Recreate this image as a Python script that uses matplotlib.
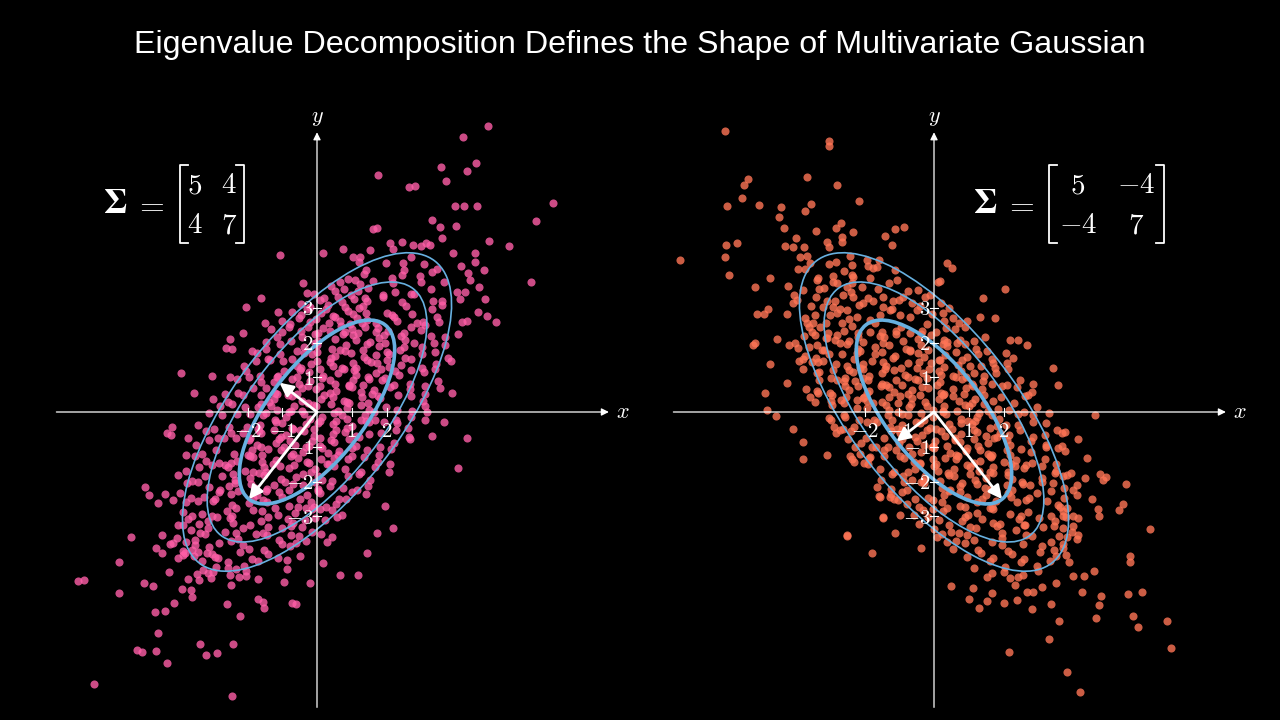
import numpy as np
import matplotlib.pyplot as plt
from matplotlib.patches import Ellipse
from matplotlib.lines import Line2D

plt.rcParams['mathtext.fontset'] = 'cm'

# ---- data -------------------------------------------------------------
title = 'Eigenvalue Decomposition Defines the Shape of Multivariate Gaussian'

sigma_left = [[5, 4], [4, 7]]
sigma_right = [[5, -4], [-4, 7]]

# Mahalanobis d^2 of the three contour ellipses
levels = [1, 2, 3]

x_ticks = [-2, -1, 1, 2]
y_ticks = [-3, -2, -1, 1, 2, 3]

# which way each eigenvector arrow points (major, minor)
arrow_hint_left = [(-1, -1), (-1, 1)]
arrow_hint_right = [(1, -1), (-1, -1)]

# samples (data units)
left_outer = [
    (4.93, 8.24), (4.21, 7.92), (4.57, 7.17), (3.58, 7.04), (4.31, 6.94), (3.72, 6.66), (1.76, 6.82),
    (2.64, 6.47), (2.81, 6.51), (6.78, 6.01), (3.97, 5.94), (4.22, 5.94), (4.61, 5.93), (6.31, 5.50),
    (3.32, 5.53), (3.53, 5.32), (3.99, 5.34), (1.62, 5.26), (1.74, 5.30), (3.61, 5.00), (4.96, 4.92),
    (5.53, 4.78), (2.45, 4.89), (2.77, 4.81), (2.99, 4.78), (3.14, 4.85), (3.26, 4.81), (2.20, 4.68),
    (3.91, 4.58), (4.54, 4.58), (2.71, 4.47), (1.99, 4.28), (2.48, 4.28), (3.09, 4.26), (4.55, 4.33),
    (4.14, 4.21), (4.81, 4.09), (3.32, 4.02), (3.44, 4.11), (4.34, 3.99), (2.96, 3.92), (2.45, 3.95),
    (6.15, 3.75), (4.40, 3.81), (3.66, 3.75), (2.15, 3.86), (1.62, 3.77), (4.67, 3.61), (3.28, 3.54),
    (4.02, 3.46), (4.27, 3.45), (1.91, 3.37), (2.25, 3.46), (2.71, 3.39), (4.83, 3.26), (4.11, 3.25),
    (3.35, 3.20), (3.61, 3.08), (2.45, 3.17), (4.64, 2.87), (4.90, 2.76), (5.14, 2.60), (4.31, 2.62),
    (4.16, 2.59), (2.15, 2.79), (2.22, 2.73), (2.73, 2.81), (3.44, 2.74), (2.88, 2.55), (3.06, 2.60),
    (1.7, 2.55), (2.3, 2.62), (3.1, 2.5), (2.0, 2.85), (2.55, 3.05), (3.3, 2.95), (1.9, 3.3), (2.8, 3.4),
    (3.6, 3.2), (2.2, 3.7), (3.0, 3.75), (2.5, 4.1), (1.75, 2.42), (2.7, 2.45), (3.5, 2.6),
    (-4.18, -0.42), (-4.33, -0.60), (-4.20, -0.66), (-3.70, -0.74), (-4.95, -2.15), (-4.83, -2.39),
    (-4.37, -2.36), (-4.58, -2.63), (-5.36, -3.59), (-4.47, -3.54), (-4.23, -3.80), (-4.14, -3.78),
    (-4.63, -3.92), (-4.47, -4.07), (-5.69, -4.33), (-3.99, -4.19), (-3.86, -4.12), (-4.25, -4.60),
    (-6.87, -4.86), (-6.71, -4.83), (-4.97, -4.91), (-4.71, -5.01), (-5.69, -5.20), (-3.89, -5.10),
    (-3.63, -5.12), (-3.61, -5.32), (-4.12, -5.49), (-4.66, -5.75), (-4.37, -5.72), (-4.57, -6.35),
    (-5.19, -6.85), (-5.03, -6.92), (-4.64, -6.87), (-4.33, -7.23), (-3.37, -6.68), (-3.20, -6.99),
    (-2.89, -6.94), (-2.41, -6.68), (-6.41, -7.83), (-2.45, -8.17), (-2.60, -5.53), (-2.22, -5.87),
    (-1.71, -5.38), (-1.56, -5.48), (-1.52, -5.65), (-0.73, -5.51), (-0.60, -5.53), (-0.95, -4.90),
    (-0.20, -4.93), (-0.49, -4.14), (-0.87, -4.26), (-0.87, -4.53), (-2.48, -4.99), (-1.70, -4.81),
    (-2.04, -4.72), (-3.46, -4.66), (-3.39, -4.83), (-3.70, -4.81), (-3.06, -4.79), (-3.13, -4.62),
    (-3.27, -4.55), (-2.55, -4.50), (-2.33, -4.52), (-2.24, -4.74), (-2.94, -4.16), (-2.84, -4.21),
    (-3.61, -3.97), (-3.42, -4.02),
    (-1.06, 4.52), (-1.62, 3.27), (-2.04, 3.03), (-1.50, 2.57), (-2.12, 2.28), (-2.50, 2.09),
    (-2.62, 1.83), (-2.45, 1.80), (-3.92, 1.11), (-3.53, 0.56), (-3.03, 1.04), (-0.39, 3.70),
    (-0.30, 3.42), (-1.11, 2.89), (0.18, 4.57), (0.76, 4.68), (1.04, 4.47), (1.24, 4.45), (1.53, 4.66),
    (2.10, 4.85), (4.07, -1.60), (3.66, -0.28), (3.30, -0.69), (4.31, -0.76), (3.88, 0.56), (3.11, -0.23),
    (2.20, -3.35), (1.74, -3.47), (1.43, -4.07), (1.17, -4.69), (0.66, -4.69), (0.18, -4.34),
    (0.28, -3.73), (0.42, -3.59), (1.96, -2.70),
]

left_core = [
    (1.22, 4.31), (1.41, 4.09), (0.88, 3.83), (1.34, 3.97), (1.1, 3.79), (0.41, 3.63), (0.66, 3.74),
    (0.79, 3.55), (1.25, 3.69), (1.47, 3.58), (-0.1, 3.41), (0.2, 3.28), (0.52, 3.47), (0.6, 3.31),
    (0.98, 3.36), (1.18, 3.49), (1.38, 3.27), (-0.45, 3.12), (-0.21, 3.02), (0.08, 3.21), (0.33, 3.09),
    (0.71, 3.17), (0.8, 3.01), (1.07, 3.24), (1.31, 3.06), (1.44, 3.18), (-0.72, 2.88), (-0.47, 2.79),
    (-0.3, 2.97), (0.12, 2.84), (0.25, 2.95), (0.47, 2.77), (0.9, 2.92), (1.03, 2.81), (1.22, 2.98),
    (1.4, 2.86), (-1.02, 2.63), (-0.77, 2.52), (-0.51, 2.71), (-0.2, 2.58), (-0.04, 2.69), (0.35, 2.55),
    (0.51, 2.73), (0.66, 2.61), (0.95, 2.53), (1.15, 2.7), (1.29, 2.57), (1.45, 2.66), (-1.33, 2.38),
    (-1.0, 2.29), (-0.8, 2.46), (-0.45, 2.33), (-0.27, 2.44), (0.02, 2.27), (0.17, 2.41), (0.38, 2.34),
    (0.7, 2.48), (0.81, 2.3), (1.0, 2.4), (1.19, 2.28), (1.37, 2.46), (1.7, 2.3), (2.05, 2.33), (2.5, 2.28),
    (3.0, 2.35),
    (-0.43, 2.16), (-0.07, 2.24), (0.02, 2.04), (0.52, 2.11), (0.74, 2.25), (1.05, 2.21), (1.11, 2.07),
    (1.53, 2.01), (1.78, 2.13), (1.94, 2.23), (2.41, 2.18), (2.54, 2.06), (-0.76, 2.03), (-1.14, 2.17),
    (-1.47, 2.01), (3.29, 2.2), (3.67, 2.16), (4.07, 2.24),
    (-0.58, 1.76), (-0.36, 1.88), (-0.05, 1.98), (0.01, 1.93), (0.42, 1.81), (0.67, 1.78), (0.83, 1.92),
    (1.31, 1.77), (1.43, 1.95), (1.77, 1.91), (1.96, 1.99), (2.4, 1.79), (2.5, 1.86), (2.79, 2.0),
    (-1.06, 1.96), (-1.46, 1.82), (-1.87, 1.76), (3.02, 1.88), (3.36, 1.98), (3.68, 1.93),
    (-0.73, 1.52), (-0.37, 1.7), (-0.15, 1.66), (-0.01, 1.74), (0.4, 1.54), (0.51, 1.61), (0.8, 1.75),
    (0.97, 1.71), (1.35, 1.57), (1.44, 1.51), (1.69, 1.63), (2.0, 1.73), (2.08, 1.68), (2.52, 1.56),
    (2.71, 1.53), (-1.07, 1.67), (-1.42, 1.52), (-1.74, 1.7), (3.01, 1.66), (3.41, 1.74), (3.76, 1.54),
    (-0.98, 1.46), (-0.57, 1.32), (-0.46, 1.26), (-0.17, 1.38), (0.0, 1.48), (0.38, 1.43), (0.47, 1.31),
    (0.72, 1.28), (1.03, 1.42), (1.11, 1.27), (1.55, 1.45), (1.74, 1.41), (2.01, 1.49), (2.06, 1.29),
    (2.42, 1.36), (-1.34, 1.5), (-1.75, 1.46), (-2.1, 1.32), (3.02, 1.26), (3.43, 1.38), (3.86, 1.48),
    (-1.12, 1.03), (-0.95, 1.17), (-0.57, 1.02), (-0.48, 1.2), (-0.23, 1.16), (0.08, 1.24), (0.16, 1.04),
    (0.6, 1.11), (0.79, 1.25), (1.06, 1.21), (1.11, 1.07), (1.47, 1.01), (1.69, 1.13), (1.83, 1.23),
    (2.24, 1.18), (2.35, 1.06), (-1.63, 1.03), (-2.04, 1.17), (-2.49, 1.02), (2.71, 1.2), (3.07, 1.16),
    (3.41, 1.24),
    (-1.24, 0.86), (-1.16, 1.0), (-0.72, 0.96), (-0.53, 0.82), (-0.26, 0.76), (-0.21, 0.88), (0.15, 0.98),
    (0.37, 0.93), (0.51, 0.81), (0.92, 0.78), (1.03, 0.92), (1.32, 0.77), (1.49, 0.95), (1.87, 0.91),
    (1.96, 0.99), (2.21, 0.79), (-1.6, 0.86), (-1.96, 1.0), (-2.3, 0.96), (2.68, 0.82), (3.1, 0.76),
    (3.47, 0.88),
    (-1.48, 0.68), (-1.21, 0.56), (-1.16, 0.53), (-0.8, 0.67), (-0.58, 0.52), (-0.44, 0.7), (-0.03, 0.66),
    (0.08, 0.74), (0.37, 0.54), (0.54, 0.61), (0.92, 0.75), (1.01, 0.71), (1.26, 0.57), (1.57, 0.51),
    (1.65, 0.63), (2.09, 0.73), (-1.85, 0.68), (-2.27, 0.56), (-2.64, 0.53), (2.68, 0.67), (3.1, 0.52),
    (3.55, 0.7),
    (-1.6, 0.49), (-1.38, 0.29), (-1.24, 0.36), (-0.83, 0.5), (-0.72, 0.46), (-0.43, 0.32), (-0.26, 0.26),
    (0.12, 0.38), (0.21, 0.48), (0.46, 0.43), (0.77, 0.31), (0.85, 0.28), (1.29, 0.42), (1.48, 0.27),
    (1.75, 0.45), (1.8, 0.41), (-2.12, 0.49), (-2.55, 0.29), (-3.0, 0.36), (2.34, 0.5), (2.71, 0.46),
    (3.05, 0.32),
    (-1.71, 0.13), (-1.6, 0.23), (-1.31, 0.18), (-1.14, 0.06), (-0.76, 0.03), (-0.67, 0.17), (-0.42, 0.02),
    (-0.11, 0.2), (-0.03, 0.16), (0.41, 0.24), (0.6, 0.04), (0.87, 0.11), (0.92, 0.25), (1.28, 0.21),
    (1.5, 0.07), (1.64, 0.01), (-2.07, 0.13), (-2.44, 0.23), (-2.79, 0.18), (2.3, 0.06), (2.73, 0.03),
    (3.1, 0.17), (1.98, 0.15),
    (-1.93, -0.06), (-1.55, -0.1), (-1.46, -0.02), (-1.21, -0.22), (-0.9, -0.15), (-0.82, -0.01),
    (-0.38, -0.05), (-0.19, -0.19), (0.08, -0.25), (0.13, -0.13), (0.49, -0.03), (0.71, -0.08),
    (0.85, -0.2), (1.26, -0.23), (1.37, -0.09), (1.66, -0.24), (-2.3, -0.06), (-2.73, -0.1), (-3.1, -0.02),
    (2.27, -0.22), (2.7, -0.15), (3.16, -0.01),
    (-2.02, -0.44), (-1.71, -0.5), (-1.63, -0.38), (-1.19, -0.28), (-1.0, -0.33), (-0.73, -0.45),
    (-0.68, -0.48), (-0.32, -0.34), (-0.1, -0.49), (0.04, -0.31), (0.45, -0.35), (0.56, -0.27),
    (0.85, -0.47), (1.02, -0.4), (1.4, -0.26), (1.49, -0.3), (-2.54, -0.44), (-2.97, -0.5), (-3.42, -0.38),
    (1.92, -0.28), (2.29, -0.33), (2.63, -0.45),
    (-2.12, -0.59), (-1.93, -0.74), (-1.66, -0.56), (-1.61, -0.6), (-1.25, -0.52), (-1.03, -0.72),
    (-0.89, -0.65), (-0.48, -0.51), (-0.37, -0.55), (-0.08, -0.69), (0.09, -0.75), (0.47, -0.63),
    (0.56, -0.53), (0.81, -0.58), (1.12, -0.7), (1.2, -0.73), (-2.48, -0.59), (-2.85, -0.74),
    (-3.19, -0.56), (1.85, -0.6), (2.27, -0.52), (2.64, -0.72), (1.5, -0.62),
    (-2.32, -0.76), (-1.96, -0.8), (-1.74, -0.94), (-1.6, -1.0), (-1.19, -0.88), (-1.08, -0.78),
    (-0.79, -0.83), (-0.62, -0.95), (-0.24, -0.98), (-0.15, -0.84), (0.1, -0.99), (0.41, -0.81),
    (0.49, -0.85), (0.93, -0.77), (1.12, -0.97), (-2.68, -0.76), (-3.1, -0.8), (-3.47, -0.94),
    (1.8, -1.0), (2.22, -0.88), (2.67, -0.78),
    (-2.4, -1.2), (-1.99, -1.23), (-1.88, -1.09), (-1.59, -1.24), (-1.42, -1.06), (-1.04, -1.1),
    (-0.95, -1.02), (-0.7, -1.22), (-0.39, -1.15), (-0.31, -1.01), (0.13, -1.05), (0.32, -1.19),
    (0.59, -1.25), (0.64, -1.13), (1.0, -1.03), (-2.91, -1.08), (-3.32, -1.2), (-3.77, -1.23),
    (1.43, -1.09), (1.79, -1.24), (2.13, -1.06),
    (-2.47, -1.47), (-2.3, -1.4), (-1.92, -1.26), (-1.83, -1.3), (-1.58, -1.44), (-1.27, -1.5),
    (-1.19, -1.38), (-0.75, -1.28), (-0.56, -1.33), (-0.29, -1.45), (-0.24, -1.48), (0.12, -1.34),
    (0.34, -1.49), (0.48, -1.31), (0.89, -1.35), (1.0, -1.27), (-2.83, -1.47), (-3.19, -1.4),
    (-3.51, -1.26), (1.34, -1.3), (1.75, -1.44), (2.1, -1.5),
    (-2.66, -1.53), (-2.57, -1.58), (-2.06, -1.7), (-1.84, -1.73), (-1.53, -1.59), (-1.48, -1.74),
    (-1.06, -1.56), (-0.81, -1.6), (-0.65, -1.52), (-0.18, -1.72), (-0.05, -1.65), (0.28, -1.51),
    (0.48, -1.55), (-3.01, -1.53), (-3.41, -1.58), (-3.76, -1.7), (1.26, -1.73), (1.66, -1.59),
    (2.08, -1.74), (0.8, -1.64),
    (-2.72, -1.85), (-2.41, -1.77), (-2.35, -1.97), (-1.94, -1.9), (-1.68, -1.76), (-1.52, -1.8),
    (-1.05, -1.94), (-0.93, -2.0), (-0.59, -1.88), (-0.4, -1.78), (0.04, -1.83), (0.14, -1.95),
    (0.43, -1.98), (-3.21, -1.84), (-3.6, -1.99), (-4.01, -1.81), (0.88, -1.85), (1.22, -1.77),
    (1.53, -1.97),
    (-2.78, -2.25), (-2.53, -2.13), (-2.37, -2.03), (-1.89, -2.08), (-1.77, -2.2), (-1.43, -2.23),
    (-1.24, -2.09), (-0.8, -2.24), (-0.7, -2.06), (-0.41, -2.1), (-0.05, -2.02), (0.04, -2.22),
    (-3.11, -2.15), (-3.43, -2.01), (-3.74, -2.05), (0.76, -2.19), (1.14, -2.25), (1.47, -2.13),
    (0.38, -2.12),
    (-2.94, -2.49), (-2.81, -2.31), (-2.48, -2.35), (-2.28, -2.27), (-1.85, -2.47), (-1.74, -2.4),
    (-1.46, -2.26), (-1.1, -2.3), (-1.01, -2.44), (-0.5, -2.5), (-0.28, -2.38), (0.03, -2.28),
    (0.08, -2.33), (-3.26, -2.45), (-3.63, -2.48), (-3.95, -2.34), (0.64, -2.49), (1.01, -2.31),
    (1.4, -2.35),
    (-2.98, -2.55), (-2.45, -2.69), (-2.32, -2.75), (-1.97, -2.63), (-1.54, -2.53), (-1.43, -2.58),
    (-0.81, -2.7), (-0.54, -2.73), (-0.17, -2.59), (-0.1, -2.74), (-3.42, -2.56), (-3.77, -2.6),
    (-4.14, -2.52), (0.25, -2.72), (0.56, -2.65), (0.84, -2.51),
    (-3.01, -2.98), (-2.58, -2.84), (-2.46, -2.99), (-1.85, -2.81), (-1.58, -2.85), (-1.2, -2.77),
    (-1.13, -2.97), (-0.63, -2.9), (-0.32, -2.76), (-0.13, -2.8), (-3.31, -2.94), (-3.6, -3.0),
    (-3.86, -2.88), (0.09, -2.78), (0.43, -2.83), (0.72, -2.95),
    (-3.14, -3.15), (-2.87, -3.01), (-2.5, -3.05), (-2.43, -3.19), (-1.92, -3.25), (-1.61, -3.13),
    (-1.42, -3.03), (-0.84, -3.08), (-0.69, -3.2), (-3.41, -3.23), (-3.72, -3.09), (-3.99, -3.24),
    (-0.07, -3.06), (0.24, -3.1), (0.58, -3.02), (-0.35, -3.12),
    (-3.14, -3.33), (-2.64, -3.45), (-2.33, -3.48), (-2.13, -3.34), (-1.56, -3.49), (-1.4, -3.31),
    (-1.0, -3.35), (-0.76, -3.27), (-3.38, -3.47), (-3.63, -3.4), (-3.86, -3.26), (-0.42, -3.3),
    (-0.14, -3.44), (0.12, -3.5),
    (-3.21, -3.52), (-2.47, -3.72), (-2.27, -3.65), (-1.75, -3.51), (-1.45, -3.55), (-3.5, -3.69),
    (-3.76, -3.75), (-4.04, -3.63), (-0.76, -3.53), (-0.53, -3.58), (-0.32, -3.7), (-1.1, -3.68),
    (-3.12, -3.88), (-2.81, -3.78), (-2.13, -3.83), (-1.97, -3.95), (-1.52, -3.98), (-3.5, -3.84),
    (-3.85, -3.99), (-1.02, -3.81), (-0.79, -3.85), (-0.6, -3.77),
    (-3.16, -4.06), (-3.02, -4.1), (-2.22, -4.02), (-1.88, -4.22), (-3.55, -4.14), (-3.8, -4.05),
    (-1.4, -4.08), (-1.12, -4.2),
    (-3.3, -4.3), (-2.9, -4.45), (-2.55, -4.33), (-2.1, -4.42), (-1.7, -4.3),
    (-3.0, -4.6), (-2.5, -4.7), (-2.05, -4.58),
]

right_outer = [
    (-6.01, 8.10), (-3.03, 7.81), (-3.03, 7.65), (-5.36, 6.70), (-5.47, 6.53), (-3.65, 6.77), (-2.80, 6.54),
    (-5.53, 6.15), (-5.95, 5.93), (-5.04, 5.96), (-4.41, 5.91), (-3.53, 5.99), (-3.71, 5.79), (-2.17, 6.07),
    (-4.47, 5.62), (-4.31, 5.30), (-3.41, 5.22), (-2.83, 5.30), (-2.68, 5.43), (-2.33, 5.19), (-1.11, 5.27),
    (-0.85, 5.31), (-1.41, 5.06), (-1.22, 4.81), (-3.98, 5.00), (-2.66, 5.03), (-2.66, 4.90), (-3.07, 4.90),
    (-3.02, 4.76), (-4.28, 4.78), (-4.06, 4.76), (-3.74, 4.76), (-5.98, 4.80), (-5.66, 4.87), (-6.01, 4.46),
    (-7.31, 4.36), (-5.89, 3.94), (-3.86, 4.47), (-3.65, 4.50), (-3.91, 4.11), (-3.71, 4.11), (-3.58, 4.28),
    (-4.72, 3.87), (-5.14, 3.59), (-4.21, 3.63), (-3.76, 3.51), (-4.03, 3.36), (-3.95, 3.22), (-4.05, 3.13),
    (-5.08, 2.83), (-4.79, 2.95), (-4.88, 2.82), (-4.24, 2.82), (-3.38, 3.80), (-3.33, 3.85), (-2.90, 3.92),
    (-3.02, 4.26), (-2.82, 4.33), (-3.16, 3.56), (-2.80, 3.70), (-2.42, 4.50), (-2.35, 4.23), (-2.35, 3.94),
    (-2.32, 3.89), (-1.92, 4.37), (-1.90, 4.21), (-1.63, 4.18), (-1.59, 4.37), (-1.12, 4.09), (-1.07, 3.80),
    (-2.51, 3.61), (-2.37, 3.70), (-2.08, 3.61), (-2.61, 3.37), (-2.32, 3.32), (-2.03, 3.13), (-1.75, 3.18),
    (-3.09, 3.18), (-3.18, 3.03), (-2.90, 3.03), (-1.46, 3.32), (-1.17, 3.18), (-0.88, 3.32), (-0.45, 3.51),
    (-0.12, 3.37), (-1.46, 3.03), (-1.27, 2.94), (-0.98, 2.79), (-3.42, 2.79), (-3.47, 2.55), (-3.66, 2.55),
    (-3.28, 2.46), (-2.80, 2.84), (-2.51, 2.94), (-2.66, 2.55), (-2.23, 2.74), (-1.84, 2.65), (-0.50, 2.94),
    (-0.64, 3.13), (0.12, 3.75),
    (-3.6, 2.45), (-3.1, 2.55), (-2.35, 2.48), (-1.7, 2.57), (-0.95, 2.44), (-0.2, 2.52),
    (-3.7, 2.7), (-3.0, 2.8), (-2.45, 2.68), (-1.55, 2.78), (-0.7, 2.72), (-0.05, 2.83),
    (-3.55, 3.05), (-2.7, 2.95), (-2.15, 3.08), (-1.2, 2.97), (-0.4, 3.04),
    (-3.4, 3.3), (-2.85, 3.2), (-1.9, 3.28), (-1.0, 3.22), (-0.25, 3.3),
    (-3.3, 3.55), (-2.4, 3.45), (-1.6, 3.55), (-0.75, 3.48), (-2.9, 3.75), (-1.85, 3.85), (-1.3, 3.72),
    (-2.6, 4.05), (-1.75, 4.15),
    (0.36, 4.28), (0.51, 4.13), (0.17, 3.78), (2.04, 3.53), (1.42, 3.27), (0.94, 2.63), (1.32, 2.72),
    (1.76, 2.70), (2.19, 2.07), (2.43, 2.07), (2.67, 1.93), (3.43, 1.26), (3.58, 0.78), (2.86, 0.82),
    (2.71, 0.49), (1.71, 1.40), (2.28, 1.54), (4.63, -0.09), (-2.51, -3.54), (-1.77, -4.05), (-1.12, -3.49),
    (-1.46, -3.01), (-1.55, -2.44),
    (4.15, -0.79), (4.39, -1.31), (3.77, -1.12), (4.78, -1.78), (4.87, -1.96), (4.95, -1.88), (5.53, -2.08),
    (4.35, -1.89), (4.54, -2.50), (4.73, -2.80), (4.75, -2.98), (5.32, -2.82), (5.45, -2.65), (6.22, -3.37),
    (5.65, -4.13), (5.65, -4.33), (5.57, -5.23), (5.99, -5.19), (5.72, -5.87), (5.88, -6.18), (6.70, -6.01),
    (6.82, -6.79), (4.82, -5.30), (4.76, -5.55), (4.65, -5.94), (4.59, -4.57), (4.33, -4.72), (4.25, -5.17),
    (4.01, -4.71), (3.59, -6.02), (3.32, -6.54), (3.82, -7.47), (4.20, -8.06), (2.17, -6.90), (3.51, -4.91),
    (3.10, -5.05), (3.37, -5.53), (2.83, -5.67), (2.67, -5.19), (2.86, -5.19), (2.38, -5.41), (2.01, -5.49),
    (2.19, -4.77), (2.42, -4.74), (2.33, -4.98), (1.66, -5.20), (1.52, -5.44), (1.30, -5.63), (1.02, -5.39),
    (1.13, -5.06), (0.48, -5.01), (1.16, -4.49), (1.52, -4.76), (1.68, -4.62), (3.89, -4.31), (3.79, -4.12),
    (3.70, -3.92), (4.15, -3.54), (4.11, -3.65), (4.01, -3.28), (3.70, -3.00), (3.63, -2.74), (3.72, -1.84),
    (4.01, -2.24), (4.11, -2.10), (3.77, -0.58), (3.53, -0.52), (3.67, -0.60),
    (-5.20, 1.93), (-5.15, 2.00), (-4.51, 2.09), (-4.16, 1.93), (-3.90, 1.83), (-4.72, 1.38), (-3.88, 1.47),
    (-4.24, 0.84), (-4.86, 0.54), (-3.68, 0.65), (-3.57, 0.44), (-3.33, 0.54), (-4.82, 0.06), (-4.55, -0.11),
    (-4.05, -0.49), (-3.76, -0.87), (-3.78, -1.34), (-3.07, -1.25), (-3.01, -0.18), (-2.88, -0.42),
    (-2.71, -0.52), (-2.56, -0.15), (-2.42, -1.27), (-2.37, -1.36), (-2.01, -1.46), (-1.84, -1.29),
    (-2.27, -1.02), (-1.57, -2.42), (-1.46, -3.06), (-2.51, -3.57), (-0.37, -3.92), (-0.98, -2.96),
    (-1.27, -2.44), (-1.03, -2.53), (-0.79, -2.24), (-3.38, 1.11), (-3.33, 1.45), (-3.17, 1.78), (-3.38, 1.93),
    (-3.09, 2.12), (-2.80, 2.22), (-3.71, 1.61), (-2.94, 0.49), (-2.68, 0.35), (-2.44, 0.63), (-2.80, 0.92),
    (-2.56, 0.97), (-2.23, 0.35), (-2.03, 0.39),
]

right_core = [
    (-3.5, 2.3), (-3.05, 2.28), (-2.6, 2.33), (-2.2, 2.27), (-1.85, 2.31), (-1.5, 2.29), (-1.1, 2.34),
    (-0.7, 2.28), (-0.35, 2.32), (0.05, 2.3), (0.35, 2.42), (0.6, 2.38), (0.9, 2.45), (0.3, 2.62),
    (0.55, 2.7), (0.25, 2.85), (0.42, 3.0), (0.2, 3.15), (0.72, 2.55),
    (-2.86, 2.06), (-2.45, 2.03), (-2.19, 2.17), (-2.03, 2.02), (-1.56, 2.2), (-1.43, 2.16), (-1.1, 2.24),
    (-0.9, 2.04), (-0.47, 2.11), (-0.36, 2.25), (-0.08, 2.21), (0.28, 2.07), (0.37, 2.01), (-3.11, 2.13),
    (-3.43, 2.23), (-3.74, 2.18), (0.76, 2.06), (1.14, 2.03), (1.47, 2.17),
    (-2.71, 2.0), (-2.49, 1.96), (-2.18, 1.82), (-2.12, 1.76), (-1.71, 1.88), (-1.46, 1.98), (-1.3, 1.93),
    (-0.82, 1.81), (-0.7, 1.78), (-0.36, 1.92), (-0.17, 1.77), (0.27, 1.95), (0.37, 1.91), (0.66, 1.99),
    (-3.21, 1.79), (-3.6, 1.86), (-4.01, 2.0), (0.88, 1.96), (1.22, 1.82), (1.53, 1.76),
    (-2.66, 1.67), (-2.3, 1.52), (-2.21, 1.7), (-1.71, 1.66), (-1.49, 1.74), (-1.18, 1.54), (-1.12, 1.61),
    (-0.7, 1.75), (-0.45, 1.71), (-0.29, 1.57), (0.18, 1.51), (0.31, 1.63), (0.64, 1.73), (-3.01, 1.68),
    (-3.41, 1.56), (-3.76, 1.53), (1.26, 1.67), (1.66, 1.52), (2.08, 1.7), (0.95, 1.58),
    (-2.5, 1.32), (-2.12, 1.26), (-2.03, 1.38), (-1.78, 1.48), (-1.47, 1.43), (-1.39, 1.31), (-0.95, 1.28),
    (-0.76, 1.42), (-0.49, 1.27), (-0.44, 1.45), (-0.08, 1.41), (0.14, 1.49), (0.28, 1.29), (0.69, 1.36),
    (0.8, 1.5), (-2.83, 1.38), (-3.19, 1.48), (-3.51, 1.43), (1.34, 1.31), (1.75, 1.28), (2.1, 1.42),
    (1.05, 1.33),
    (-2.44, 1.2), (-2.33, 1.16), (-2.04, 1.24), (-1.87, 1.04), (-1.49, 1.11), (-1.4, 1.25), (-1.15, 1.21),
    (-0.84, 1.07), (-0.76, 1.01), (-0.32, 1.13), (-0.13, 1.23), (0.14, 1.18), (0.19, 1.06), (0.55, 1.03),
    (0.77, 1.17), (0.91, 1.02), (-2.91, 1.2), (-3.32, 1.16), (-3.77, 1.24), (1.43, 1.04), (1.79, 1.11),
    (2.13, 1.25), (1.15, 1.12),
    (-2.27, 0.88), (-2.05, 0.98), (-1.91, 0.93), (-1.5, 0.81), (-1.39, 0.78), (-1.1, 0.92), (-0.93, 0.77),
    (-0.55, 0.95), (-0.46, 0.91), (-0.21, 0.99), (0.1, 0.79), (0.18, 0.86), (0.62, 1.0), (0.81, 0.96),
    (1.08, 0.82), (1.13, 0.76), (-2.6, 0.88), (-2.96, 0.98), (-3.3, 0.93), (1.68, 0.81), (2.1, 0.78),
    (2.47, 0.92), (1.4, 0.9),
    (-2.2, 0.74), (-1.93, 0.54), (-1.88, 0.61), (-1.52, 0.75), (-1.3, 0.71), (-1.16, 0.57), (-0.75, 0.51),
    (-0.64, 0.63), (-0.35, 0.73), (-0.18, 0.68), (0.2, 0.56), (0.29, 0.53), (0.54, 0.67), (0.85, 0.52),
    (0.93, 0.7), (1.37, 0.66), (-2.56, 0.74), (-2.99, 0.54), (-3.36, 0.61), (1.96, 0.75), (2.38, 0.71),
    (2.83, 0.57),
    (-2.01, 0.43), (-1.93, 0.31), (-1.49, 0.28), (-1.3, 0.42), (-1.03, 0.27), (-0.98, 0.45), (-0.62, 0.41),
    (-0.4, 0.49), (-0.26, 0.29), (0.15, 0.36), (0.26, 0.5), (0.55, 0.46), (0.72, 0.32), (1.1, 0.26),
    (1.19, 0.38), (1.44, 0.48), (-2.54, 0.43), (-2.97, 0.31), (-3.42, 0.28), (1.92, 0.42), (2.29, 0.27),
    (2.63, 0.45), (1.7, 0.33),
    (-1.93, 0.11), (-1.76, 0.25), (-1.38, 0.21), (-1.29, 0.07), (-1.04, 0.01), (-0.73, 0.13), (-0.65, 0.23),
    (-0.21, 0.18), (-0.02, 0.06), (0.25, 0.03), (0.3, 0.17), (0.66, 0.02), (0.88, 0.2), (1.02, 0.16),
    (1.43, 0.24), (1.54, 0.04), (-2.21, 0.11), (-2.58, 0.25), (-2.93, 0.21), (2.16, 0.07), (2.59, 0.01),
    (2.96, 0.13), (1.85, 0.1),
    (-1.74, -0.23), (-1.33, -0.09), (-1.22, -0.24), (-0.93, -0.06), (-0.76, -0.1), (-0.38, -0.02),
    (-0.29, -0.22), (-0.04, -0.15), (0.27, -0.01), (0.35, -0.05), (0.79, -0.19), (0.98, -0.25),
    (1.25, -0.13), (1.3, -0.03), (1.66, -0.08), (1.88, -0.2), (-2.16, -0.23), (-2.59, -0.09),
    (-2.96, -0.24), (2.41, -0.06), (2.84, -0.1), (3.3, -0.02),
    (-1.64, -0.3), (-1.28, -0.44), (-1.06, -0.5), (-0.92, -0.38), (-0.51, -0.28), (-0.4, -0.33),
    (-0.11, -0.45), (0.06, -0.48), (0.44, -0.34), (0.53, -0.49), (0.78, -0.31), (1.09, -0.35),
    (1.17, -0.27), (1.61, -0.47), (1.8, -0.4), (-1.92, -0.3), (-2.29, -0.44), (-2.63, -0.5), (2.43, -0.38),
    (2.85, -0.28), (3.22, -0.33), (2.08, -0.36),
    (-1.43, -0.74), (-1.24, -0.56), (-0.97, -0.6), (-0.92, -0.52), (-0.56, -0.72), (-0.34, -0.65),
    (-0.2, -0.51), (0.21, -0.55), (0.32, -0.69), (0.61, -0.75), (0.78, -0.63), (1.16, -0.53), (1.25, -0.58),
    (1.5, -0.7), (1.81, -0.73), (1.89, -0.59), (-1.96, -0.74), (-2.38, -0.56), (-2.83, -0.6), (2.48, -0.52),
    (2.85, -0.72), (3.19, -0.65), (2.15, -0.66),
    (-1.32, -1.0), (-1.01, -0.88), (-0.93, -0.78), (-0.49, -0.83), (-0.3, -0.95), (-0.03, -0.98),
    (0.02, -0.84), (0.38, -0.99), (0.6, -0.81), (0.74, -0.85), (1.15, -0.77), (1.26, -0.97), (1.55, -0.9),
    (1.72, -0.76), (2.1, -0.8), (2.19, -0.94), (-1.68, -1.0), (-2.1, -0.88), (-2.47, -0.78), (2.8, -0.83),
    (3.22, -0.95), (3.67, -0.98),
    (-1.1, -1.1), (-0.72, -1.02), (-0.63, -1.22), (-0.38, -1.15), (-0.07, -1.01), (0.01, -1.05),
    (0.45, -1.19), (0.64, -1.25), (0.91, -1.13), (0.96, -1.03), (1.32, -1.08), (1.54, -1.2), (1.68, -1.23),
    (2.09, -1.09), (2.2, -1.24), (2.49, -1.06), (-1.43, -1.1), (-1.79, -1.02), (-2.13, -1.22), (2.8, -1.15),
    (3.21, -1.01), (3.57, -1.05),
    (-0.98, -1.28), (-0.87, -1.33), (-0.58, -1.45), (-0.41, -1.48), (-0.03, -1.34), (0.06, -1.49),
    (0.31, -1.31), (0.62, -1.35), (0.7, -1.27), (1.14, -1.47), (1.33, -1.4), (1.6, -1.26), (1.65, -1.3),
    (2.01, -1.44), (2.23, -1.5), (2.37, -1.38), (-1.45, -1.28), (-1.86, -1.33), (-2.3, -1.45), (2.83, -1.48),
    (3.19, -1.34), (3.51, -1.49),
    (-0.76, -1.72), (-0.54, -1.65), (-0.4, -1.51), (0.01, -1.55), (0.12, -1.69), (0.41, -1.75),
    (0.58, -1.63), (0.96, -1.53), (1.05, -1.58), (1.3, -1.7), (1.61, -1.73), (1.69, -1.59), (2.13, -1.74),
    (2.32, -1.56), (2.59, -1.6), (2.64, -1.52), (-1.15, -1.72), (-1.55, -1.65), (-1.9, -1.51), (3.12, -1.55),
    (3.52, -1.69), (3.94, -1.75),
    (-0.62, -1.95), (-0.31, -1.98), (-0.25, -1.84), (0.16, -1.99), (0.42, -1.81), (0.58, -1.85),
    (1.05, -1.77), (1.17, -1.97), (1.51, -1.9), (1.7, -1.76), (2.14, -1.8), (2.24, -1.94), (2.53, -2.0),
    (-0.88, -1.85), (-1.22, -1.77), (-1.53, -1.97), (3.1, -1.9), (3.49, -1.76), (3.83, -1.8),
    (-0.37, -2.01), (-0.28, -2.05), (0.23, -2.19), (0.45, -2.25), (0.76, -2.13), (0.81, -2.03),
    (1.23, -2.08), (1.48, -2.2), (1.64, -2.23), (2.11, -2.09), (2.24, -2.24), (2.57, -2.06), (2.77, -2.1),
    (-0.86, -2.02), (-1.24, -2.22), (-1.65, -2.15), (3.11, -2.01), (3.43, -2.05), (3.74, -2.19),
    (-0.18, -2.47), (0.29, -2.4), (0.42, -2.26), (0.75, -2.3), (0.95, -2.44), (1.38, -2.5), (1.49, -2.38),
    (1.78, -2.28), (2.13, -2.33), (2.22, -2.45), (2.73, -2.48), (2.95, -2.34), (-0.54, -2.49),
    (-0.91, -2.31), (-1.23, -2.35), (3.36, -2.27), (3.73, -2.47), (4.12, -2.4),
    (-0.02, -2.53), (0.22, -2.58), (0.75, -2.7), (0.88, -2.73), (1.23, -2.59), (1.66, -2.74), (1.77, -2.56),
    (2.39, -2.6), (2.65, -2.52), (-0.42, -2.72), (-0.77, -2.65), (-1.14, -2.51), (3.25, -2.55),
    (3.56, -2.69), (3.84, -2.75),
    (0.25, -2.85), (0.36, -2.77), (0.98, -2.97), (1.24, -2.9), (1.62, -2.76), (1.69, -2.8), (2.2, -2.94),
    (2.5, -3.0), (2.7, -2.88), (-0.03, -2.78), (-0.32, -2.83), (-0.58, -2.95), (3.37, -2.98), (3.71, -2.84),
    (4.0, -2.99),
    (0.43, -3.25), (0.81, -3.13), (0.88, -3.03), (1.38, -3.08), (1.69, -3.2), (1.89, -3.23), (2.46, -3.09),
    (2.61, -3.24), (3.02, -3.06), (0.15, -3.1), (-0.16, -3.02), (-0.43, -3.22), (3.49, -3.15), (3.8, -3.01),
    (4.14, -3.05),
    (0.72, -3.49), (1.03, -3.31), (1.22, -3.35), (1.8, -3.27), (1.95, -3.47), (2.36, -3.4), (2.6, -3.26),
    (3.13, -3.3), (0.48, -3.44), (0.23, -3.5), (0.0, -3.38), (3.44, -3.28), (3.72, -3.33), (3.98, -3.45),
    (0.94, -3.55), (1.14, -3.69), (1.66, -3.75), (1.97, -3.63), (2.65, -3.53), (2.81, -3.58), (0.64, -3.7),
    (0.38, -3.73), (0.1, -3.59), (3.38, -3.74), (3.61, -3.56), (3.82, -3.6),
    (1.27, -3.98), (1.95, -3.84), (2.12, -3.99), (2.57, -3.81), (3.12, -3.85), (0.9, -3.77), (0.55, -3.93),
    (3.45, -3.96), (3.72, -3.8),
    (1.35, -4.06), (1.7, -4.2), (2.25, -4.1), (2.6, -4.24), (3.05, -4.02), (3.5, -4.15), (0.95, -4.18),
    (1.6, -4.3), (2.05, -4.45), (2.5, -4.33), (2.95, -4.42), (3.35, -4.3),
    (2.0, -4.6), (2.55, -4.7), (3.0, -4.58),
]

# ---- style -----------------------------------------------------------
BG = 'black'
PINK = '#FF5FA8'
CORAL = '#FF7556'
ELL = '#67B0E0'
W = 'white'
SCALE = 34.75          # pixels per data unit
FIG_W, FIG_H = 1280, 720


def px(x, y):
    # reference pixel position -> figure fraction
    return x / FIG_W, 1 - y / FIG_H


def draw_panel(ax, sigma, pts, color, hints):
    pts = np.array(pts)
    ax.scatter(pts[:, 0], pts[:, 1], s=34, color=color, alpha=0.8, linewidths=0, zorder=2)

    vals, vecs = np.linalg.eigh(np.array(sigma, dtype=float))
    major = vecs[:, 1]
    angle = np.degrees(np.arctan2(major[1], major[0]))
    for k in levels:
        lw = 2.6 if k == 1 else 1.2
        ax.add_patch(Ellipse((0, 0), 2 * np.sqrt(k * vals[1]), 2 * np.sqrt(k * vals[0]),
                             angle=angle, fill=False, ec=ELL, lw=lw, zorder=3))

    # coordinate axes
    ap = dict(arrowstyle='-|>', color=W, lw=0.9, mutation_scale=11, shrinkA=0, shrinkB=0)
    ax.annotate('', xy=(8.4, 0), xytext=(-7.5, 0), arrowprops=ap, zorder=4)
    ax.annotate('', xy=(0, 8.05), xytext=(0, -8.5), arrowprops=ap, zorder=4)
    ax.text(8.8, 0, r'$x$', color=W, fontsize=16, ha='center', va='center', zorder=6)
    ax.text(0, 8.45, r'$y$', color=W, fontsize=16, ha='center', va='center', zorder=6)

    for t in x_ticks:
        ax.plot([t, t], [-0.12, 0.12], color=W, lw=0.8, zorder=4)
        ax.text(t, -0.25, '$%d$' % t, color=W, fontsize=15, ha='center', va='top', zorder=6)
    for t in y_ticks:
        ax.plot([-0.12, 0.12], [t, t], color=W, lw=0.8, zorder=4)
        ax.text(-0.1, t - 0.05, '$%d$' % t, color=W, fontsize=15, ha='right', va='center', zorder=6)

    # eigenvectors scaled by sqrt(eigenvalue)
    for i, hint in zip([1, 0], hints):
        v = vecs[:, i] * np.sqrt(vals[i])
        if np.dot(v, hint) < 0:
            v = -v
        ax.annotate('', xy=(v[0], v[1]), xytext=(0, 0), zorder=5,
                    arrowprops=dict(arrowstyle='-|>', color=W, lw=2.0, mutation_scale=20,
                                    shrinkA=0, shrinkB=0))


def draw_matrix(fig, sigma, sig_x, eq_x, col_x, left_x, right_x):
    fig.text(*px(sig_x, 213), '\u03a3', color=W, fontsize=25, family='STIXGeneral',
             weight='bold', ha='center', va='baseline')
    fig.text(*px(eq_x, 213), r'$=$', color=W, fontsize=23, ha='center', va='baseline')
    for r, base in enumerate([193, 233]):
        for c, cx in enumerate(col_x):
            fig.text(*px(cx, base), '$%d$' % sigma[r][c], color=W, fontsize=21,
                     ha='center', va='baseline')
    top, bot = 165, 243
    for x, d in [(left_x, 8), (right_x, -8)]:
        xs = [x + d, x, x, x + d]
        ys = [top, top, bot, bot]
        fx, fy = zip(*[px(a, b) for a, b in zip(xs, ys)])
        fig.add_artist(Line2D(fx, fy, color=W, lw=1.3, transform=fig.transFigure))


fig = plt.figure(figsize=(12.8, 7.2), dpi=100, facecolor=BG)

# left panel: origin at pixel (317, 412); right panel: origin at pixel (934, 412)
axL = fig.add_axes([0, 0, 0.5, 1])
axR = fig.add_axes([0.5, 0, 0.5, 1])
for ax, ox in [(axL, 317), (axR, 934 - 640)]:
    ax.set_facecolor(BG)
    ax.set_xlim(-ox / SCALE, (640 - ox) / SCALE)
    ax.set_ylim(-(FIG_H - 412) / SCALE, 412 / SCALE)
    ax.axis('off')

draw_panel(axL, sigma_left, left_outer + left_core, PINK, arrow_hint_left)
draw_panel(axR, sigma_right, right_outer + right_core, CORAL, arrow_hint_right)

draw_matrix(fig, sigma_left, 116, 149, [195, 229], 180, 244)
draw_matrix(fig, sigma_right, 986, 1019, [1078, 1136], 1049, 1164)

fig.text(0.5, 1 - 45 / FIG_H, title, color=W, fontsize=23.2, family='Liberation Sans',
         ha='center', va='center')

fig.savefig('out.png', dpi=100, facecolor=BG)
